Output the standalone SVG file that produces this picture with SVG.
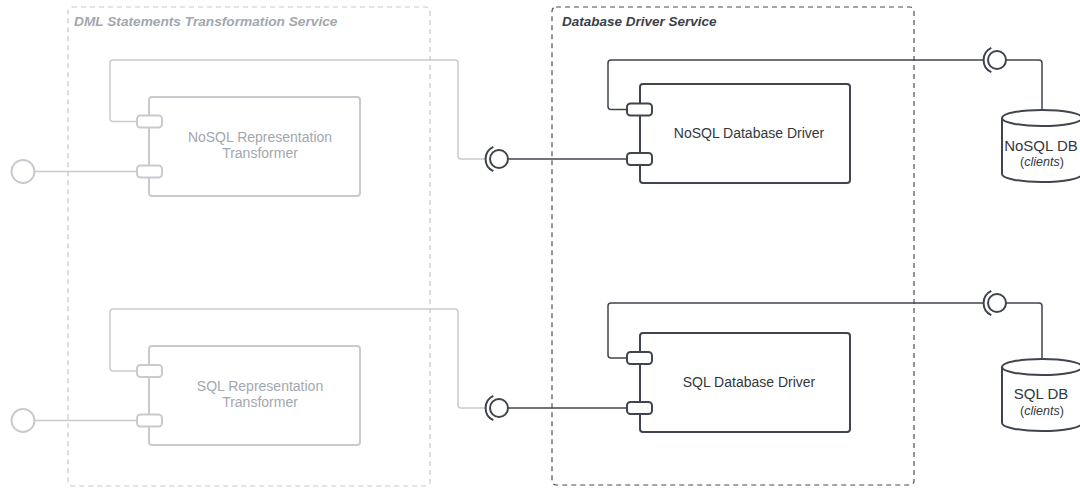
<svg xmlns="http://www.w3.org/2000/svg" width="1080" height="489" viewBox="0 0 1080 489">
<style>
text{font-family:"Liberation Sans",Arial,sans-serif}
.cont-l{fill:none;stroke:#c6c9cd;stroke-width:1.2;stroke-dasharray:5 4}
.cont-r{fill:none;stroke:#4a4f57;stroke-width:1.2;stroke-dasharray:5 4}
.title-l{font-size:13.7px;font-weight:bold;font-style:italic;fill:#a3a7ae}
.title-r{font-size:13.5px;font-weight:bold;font-style:italic;fill:#3a3f46}
.comp-l{fill:#fff;stroke:#c8cacf;stroke-width:2}
.comp-r{fill:#fff;stroke:#40454d;stroke-width:2}
.lbl-l{font-size:14px;fill:#a3a7ae;text-anchor:middle}
.lbl-r{font-size:14px;fill:#33373d;text-anchor:middle}
.db{font-size:15px}
.sm{font-size:12.5px}
.wire-l{fill:none;stroke:#c8cacf;stroke-width:1.5}
.wire-r{fill:none;stroke:#40454d;stroke-width:1.5}
.ball-l{fill:#fff;stroke:#c8cacf;stroke-width:2}
.ball-r{fill:#fff;stroke:#40454d;stroke-width:2}
.sock{fill:none;stroke:#40454d;stroke-width:2}
</style>

<g id="dml-service">
<rect class="cont-l" x="68" y="7" width="362" height="479" rx="4"/>
<text class="title-l" x="74" y="26">DML Statements Transformation Service</text>
</g>
<g id="driver-service">
<rect class="cont-r" x="552" y="7" width="362" height="478" rx="4"/>
<text class="title-r" x="562" y="26">Database Driver Service</text>
</g>

<g id="connectors">
<!-- left lollipops -->
<line class="wire-l" x1="35" y1="171.5" x2="137" y2="171.5"/>
<circle class="ball-l" cx="23" cy="171.5" r="11.5"/>
<line class="wire-l" x1="35" y1="420.5" x2="137" y2="420.5"/>
<circle class="ball-l" cx="23" cy="420.5" r="11.5"/>
<!-- transformer to driver (NoSQL) -->
<path class="wire-l" d="M137 121.5 H113 Q110 121.5 110 118.5 V63 Q110 60 113 60 H455 Q458 60 458 63 V156 Q458 159 461 159 H486"/>
<path class="sock" d="M493.3 146.8 A13.5 13.5 0 0 0 493.3 171.2"/>
<line class="wire-r" x1="508" y1="159" x2="627" y2="159"/>
<circle class="ball-r" cx="499" cy="159" r="9"/>
<!-- transformer to driver (SQL) -->
<path class="wire-l" d="M137 371 H113 Q110 371 110 368 V312 Q110 309 113 309 H455 Q458 309 458 312 V405 Q458 408 461 408 H486"/>
<path class="sock" d="M493.3 395.8 A13.5 13.5 0 0 0 493.3 420.2"/>
<line class="wire-r" x1="508" y1="408" x2="627" y2="408"/>
<circle class="ball-r" cx="499" cy="408" r="9"/>
<!-- driver to NoSQL DB -->
<path class="wire-r" d="M627 109.5 H611 Q608 109.5 608 106.5 V63 Q608 60 611 60 H984"/>
<path class="sock" d="M991.3 47.8 A13.5 13.5 0 0 0 991.3 72.2"/>
<circle class="ball-r" cx="997" cy="60" r="9"/>
<path class="wire-r" d="M1006 60 H1039 Q1042 60 1042 63 V110"/>
<!-- driver to SQL DB -->
<path class="wire-r" d="M627 358 H611 Q608 358 608 355 V306 Q608 303 611 303 H984"/>
<path class="sock" d="M991.3 290.8 A13.5 13.5 0 0 0 991.3 315.2"/>
<circle class="ball-r" cx="997" cy="303" r="9"/>
<path class="wire-r" d="M1006 303 H1039 Q1042 303 1042 306 V359"/>
</g>

<g id="nosql-transformer">
<rect class="comp-l" x="149" y="97" width="211" height="99" rx="3"/>
<rect class="comp-l" x="137" y="115.5" width="25" height="12" rx="3.5"/>
<rect class="comp-l" x="137" y="165.5" width="25" height="12" rx="3.5"/>
<text class="lbl-l" x="260" y="142">NoSQL Representation</text>
<text class="lbl-l" x="260" y="158">Transformer</text>
</g>

<g id="sql-transformer">
<rect class="comp-l" x="149" y="346" width="211" height="99" rx="3"/>
<rect class="comp-l" x="137" y="365" width="25" height="12" rx="3.5"/>
<rect class="comp-l" x="137" y="414.5" width="25" height="12" rx="3.5"/>
<text class="lbl-l" x="260" y="391">SQL Representation</text>
<text class="lbl-l" x="260" y="407">Transformer</text>
</g>

<g id="nosql-driver">
<rect class="comp-r" x="640" y="84" width="210" height="99" rx="3"/>
<rect class="comp-r" x="627" y="103.5" width="25" height="12" rx="3.5"/>
<rect class="comp-r" x="627" y="153" width="25" height="12" rx="3.5"/>
<text class="lbl-r" x="749" y="138">NoSQL Database Driver</text>
</g>

<g id="sql-driver">
<rect class="comp-r" x="640" y="333" width="210" height="99" rx="3"/>
<rect class="comp-r" x="627" y="352" width="25" height="12" rx="3.5"/>
<rect class="comp-r" x="627" y="402" width="25" height="12" rx="3.5"/>
<text class="lbl-r" x="749" y="387">SQL Database Driver</text>
</g>

<g id="nosql-db">
<path class="comp-r" d="M1002 118 A40 8 0 0 1 1082 118 V174 A40 8 0 0 1 1002 174 Z"/>
<path class="comp-r" d="M1002 118 A40 8 0 0 0 1082 118" fill="none"/>
<text class="lbl-r db" x="1041" y="151">NoSQL DB</text>
<text class="lbl-r sm" x="1042" y="166">(<tspan font-style="italic">clients</tspan>)</text>
</g>

<g id="sql-db">
<path class="comp-r" d="M1002 367 A40 8 0 0 1 1082 367 V423 A40 8 0 0 1 1002 423 Z"/>
<path class="comp-r" d="M1002 367 A40 8 0 0 0 1082 367" fill="none"/>
<text class="lbl-r db" x="1041" y="399">SQL DB</text>
<text class="lbl-r sm" x="1042" y="415">(<tspan font-style="italic">clients</tspan>)</text>
</g>
</svg>
